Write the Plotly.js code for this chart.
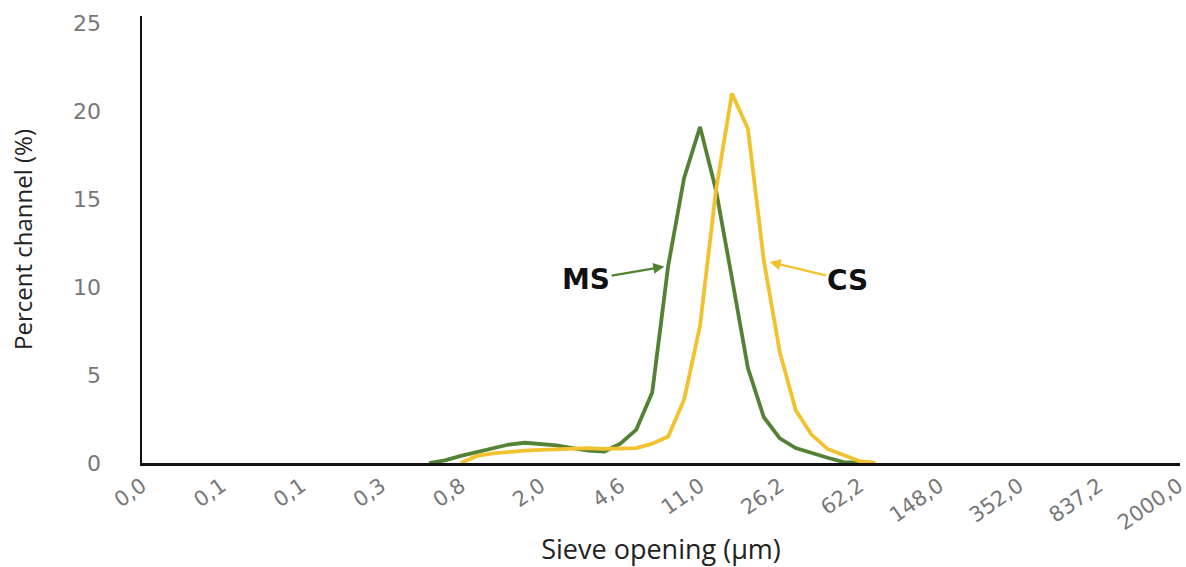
<!DOCTYPE html>
<html><head><meta charset="utf-8">
<script src="https://cdn.plot.ly/plotly-3.0.1.min.js"></script>
<style>html,body{margin:0;padding:0;background:#fff}#chart{width:1186px;height:567px}</style>
</head><body><div id="chart"></div>
<script>
// Sieve opening labels, shown every 5th channel
const sizeLabels = ['0,0','0,1','0,1','0,3','0,8','2,0','4,6','11,0','26,2','62,2','148,0','352,0','837,2','2000,0'];
const channelsPerLabel = 5;

// MS series (percent per channel), starting at channel 18
const msFirstChannel = 18;
const msValues = [0,0.15,0.4,0.6,0.85,1.05,1.15,1.1,1.0,0.85,0.7,0.65,1.1,1.9,4.0,11.2,16.2,19.1,15.5,10.5,5.4,2.6,1.4,0.85,0.55,0.3,0.05,0];

// CS series (percent per channel), starting at channel 20
const csFirstChannel = 20;
const csValues = [0,0.4,0.55,0.65,0.7,0.75,0.8,0.85,0.85,0.8,0.8,0.85,1.1,1.5,3.6,7.8,15.5,21.0,19.0,11.5,6.3,3.0,1.6,0.8,0.45,0.1,0];

const seriesNames = ['MS','CS'];
const seriesColors = ['#548235','#F2C22E'];

const msX = msValues.map((_, k) => msFirstChannel + k);
const csX = csValues.map((_, k) => csFirstChannel + k);
const tickVals = sizeLabels.map((_, k) => k * channelsPerLabel);

const traces = [
  {x: msX, y: msValues, name: seriesNames[0], type: 'scatter', mode: 'lines',
   line: {color: seriesColors[0], width: 3.8}},
  {x: csX, y: csValues, name: seriesNames[1], type: 'scatter', mode: 'lines',
   line: {color: seriesColors[1], width: 3.8}}
];

const msArrowCh = 33, csArrowCh = 39;
const layout = {
  width: 1186, height: 567,
  margin: {l: 142, r: 6, t: 16, b: 104},
  paper_bgcolor: '#fff', plot_bgcolor: '#fff',
  showlegend: false,
  font: {family: 'DejaVu Sans', color: '#777'},
  xaxis: {
    range: [0, (sizeLabels.length - 1) * channelsPerLabel + 0.1],
    tickmode: 'array', tickvals: tickVals, ticktext: sizeLabels,
    tickangle: -35, tickfont: {family: 'DejaVu Sans', size: 21, color: '#777'},
    ticklabeloverflow: 'allow',
    showline: true, linecolor: '#111', linewidth: 2.5,
    showgrid: false, zeroline: false, ticks: '',
    title: {text: 'Sieve opening (µm)', font: {family: 'Open Sans', size: 27, color: '#222'}, standoff: 13}
  },
  yaxis: {
    range: [0, 25.4], dtick: 5, tick0: 0,
    tickfont: {family: 'DejaVu Sans', size: 22, color: '#777'},
    showline: true, linecolor: '#111', linewidth: 2.5,
    showgrid: false, zeroline: false,
    ticks: 'outside', ticklen: 34, tickcolor: 'rgba(0,0,0,0)',
    title: {text: 'Percent channel (%)', font: {family: 'Open Sans', size: 24, color: '#222'}, standoff: 34}
  },
  annotations: [
    {x: msArrowCh, y: msValues[msArrowCh - msFirstChannel], xref: 'x', yref: 'y',
     text: '<b>' + seriesNames[0] + '</b>', showarrow: true, ax: -82, ay: 14,
     arrowhead: 2, arrowsize: 1, arrowwidth: 2.2, arrowcolor: seriesColors[0], standoff: 4,
     font: {family: 'DejaVu Sans', size: 28, color: '#111'}},
    {x: csArrowCh, y: csValues[csArrowCh - csFirstChannel], xref: 'x', yref: 'y',
     text: '<b>' + seriesNames[1] + '</b>', showarrow: true, ax: 84, ay: 20,
     arrowhead: 2, arrowsize: 1, arrowwidth: 2.2, arrowcolor: seriesColors[1], standoff: 6,
     font: {family: 'DejaVu Sans', size: 28, color: '#111'}}
  ]
};

Plotly.newPlot('chart', traces, layout, {displayModeBar: false, staticPlot: true});
</script>
</body></html>
